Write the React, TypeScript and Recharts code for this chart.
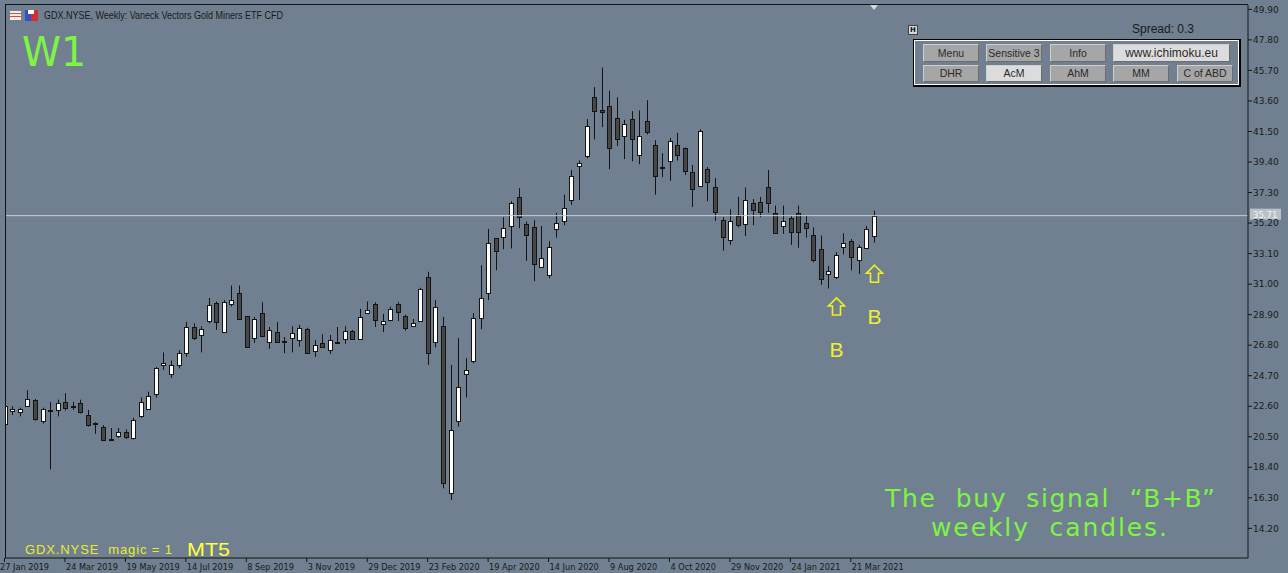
import React from 'react';
import { ComposedChart, Bar, XAxis, YAxis, ReferenceLine, ReferenceDot } from 'recharts';

// weekly bars from 27 Jan 2019 to 11 Apr 2021
const OPEN = [
  21.4, 22.3, 22.2, 22.6, 23.0, 21.55, 22.35, 22.35, 22.9, 22.65, 22.85, 22.0, 21.45, 21.2, 20.35, 20.55, 20.8, 20.4, 21.9, 22.4,
  23.45, 25.45, 24.8, 25.45, 26.25, 28.05, 27.5, 28.45, 29.7, 27.7, 29.6, 30.4, 28.8, 27.3, 29.0, 27.05, 27.7, 27.1, 27.3, 27.15,
  27.9, 26.4, 26.95, 26.5, 27.0, 27.25, 27.8, 27.25, 29.0, 29.6, 28.25, 28.5, 29.65, 28.8, 28.1, 28.45, 31.5, 27.05, 28.1, 16.6,
  21.6, 24.8, 25.7, 28.7, 30.4, 34.15, 34.25, 35.0, 37.0, 35.15, 34.95, 32.2, 31.6, 34.8, 35.35, 36.8, 39.1, 39.8, 43.85, 42.95,
  43.25, 42.4, 41.2, 42.35, 39.9, 42.2, 40.6, 39.05, 39.45, 40.55, 40.35, 38.7, 37.75, 38.9, 37.65, 35.4, 34.05, 35.7, 35.15, 36.6,
  36.65, 37.7, 35.9, 35.0, 35.55, 35.9, 35.2, 34.35, 33.4, 31.7, 31.5, 33.55, 33.95, 32.65, 33.5, 34.3,
];
const HIGH = [
  22.8, 22.6, 22.5, 23.7, 23.1, 22.5, 22.9, 23.05, 23.5, 22.9, 23.05, 22.35, 21.5, 21.3, 21.1, 21.1, 21.0, 21.8, 23.2, 23.6,
  25.3, 26.3, 25.75, 26.45, 28.4, 28.3, 28.1, 30.05, 29.8, 29.9, 30.9, 30.9, 28.8, 28.75, 29.75, 28.05, 28.4, 27.35, 28.1, 28.2,
  28.0, 27.15, 27.55, 27.5, 28.05, 28.1, 27.85, 29.3, 29.8, 29.75, 28.95, 29.45, 29.75, 28.9, 28.6, 30.75, 31.85, 29.9, 28.75, 25.45,
  27.3, 25.9, 29.0, 32.3, 34.8, 34.15, 35.6, 36.7, 37.6, 35.3, 35.4, 35.0, 33.95, 35.9, 37.15, 38.85, 39.5, 42.35, 44.55, 45.9,
  44.3, 43.85, 42.3, 42.9, 42.95, 43.65, 40.9, 40.0, 41.05, 41.4, 40.4, 39.2, 41.65, 39.05, 38.3, 35.6, 36.15, 37.0, 37.65, 36.85,
  37.0, 38.85, 36.4, 36.4, 35.75, 36.4, 35.7, 34.9, 34.35, 32.25, 33.2, 34.5, 34.1, 33.7, 35.0, 36.05,
];
const LOW = [
  21.0, 22.0, 21.9, 22.6, 21.6, 21.4, 18.25, 21.9, 22.3, 22.35, 22.1, 21.2, 20.7, 20.2, 20.2, 20.4, 20.35, 20.3, 21.8, 22.35,
  23.2, 25.1, 24.55, 25.2, 26.0, 27.15, 26.3, 28.3, 27.85, 27.7, 29.45, 28.6, 26.65, 26.95, 27.35, 26.55, 26.95, 26.25, 26.3, 26.7,
  26.2, 26.0, 26.65, 26.2, 26.95, 26.9, 27.2, 27.2, 29.0, 28.05, 27.7, 28.45, 28.45, 27.8, 28.05, 28.4, 25.45, 26.65, 16.95, 16.15,
  21.2, 23.2, 25.55, 27.9, 29.9, 31.95, 33.4, 33.45, 34.85, 32.6, 31.2, 32.2, 31.4, 34.2, 35.05, 36.45, 36.8, 39.65, 40.95, 41.8,
  38.9, 40.5, 39.6, 39.45, 39.25, 41.3, 37.15, 38.35, 38.1, 39.5, 38.5, 36.3, 37.7, 36.7, 35.35, 33.3, 33.7, 34.9, 34.3, 35.05,
  35.6, 35.9, 34.5, 34.45, 33.7, 33.5, 34.2, 32.5, 30.95, 30.7, 31.35, 33.05, 31.95, 31.7, 33.45, 33.85,
];
const CLOSE = [
  22.6, 22.4, 22.4, 23.1, 21.7, 22.4, 22.3, 22.8, 22.45, 22.6, 22.2, 21.3, 21.4, 20.3, 20.3, 20.85, 20.5, 21.65, 22.9, 23.3,
  25.2, 25.6, 25.45, 26.25, 28.05, 27.3, 27.9, 29.55, 28.4, 29.8, 29.9, 28.6, 26.7, 28.6, 27.4, 27.85, 27.0, 27.05, 27.65, 28.0,
  26.25, 26.8, 26.7, 27.15, 27.05, 27.8, 27.25, 28.75, 29.2, 28.55, 28.45, 29.3, 29.1, 28.0, 28.35, 30.65, 26.25, 29.4, 17.3, 20.95,
  23.95, 25.1, 28.7, 30.05, 33.85, 33.3, 34.85, 36.55, 35.6, 34.4, 32.4, 32.8, 33.55, 35.2, 36.25, 38.45, 39.3, 41.85, 42.9, 42.85,
  40.35, 40.95, 42.0, 40.95, 41.2, 41.45, 38.45, 39.0, 40.85, 39.9, 38.8, 37.55, 41.55, 38.0, 35.95, 34.25, 35.35, 35.05, 36.8, 36.1,
  35.95, 36.6, 34.5, 35.35, 34.6, 34.6, 34.85, 32.65, 31.35, 31.9, 33.0, 33.85, 32.85, 33.55, 34.8, 35.71,
];

const TICK_LABELS = [
  '27 Jan 2019', '24 Mar 2019', '19 May 2019', '14 Jul 2019', '8 Sep 2019', '3 Nov 2019', '29 Dec 2019', '23 Feb 2020',
  '19 Apr 2020', '14 Jun 2020', '9 Aug 2020', '4 Oct 2020', '29 Nov 2020', '24 Jan 2021', '21 Mar 2021',
];
const TICK_BARS = [0, 8, 16, 24, 32, 40, 48, 56, 64, 72, 80, 88, 96, 104, 112];
const Y_TICKS = [14.2, 16.3, 18.4, 20.5, 22.6, 24.7, 26.8, 28.9, 31.0, 33.1, 35.2, 37.3, 39.4, 41.5, 43.6, 45.7, 47.8, 49.9];
const LAST_PRICE = 35.71;
const SIGNAL_BARS = [110, 115];
const SIGNAL_PRICES = [30.05, 32.3];
const ROW1 = ['Menu', 'Sensitive 3', 'Info', 'www.ichimoku.eu'];
const ROW2 = ['DHR', 'AcM', 'AhM', 'MM', 'C of ABD'];

const BG = '#708090';
const INK = '#141414';
const GREEN = '#7ef542';
const YELLOW = '#eaea30';

const data = OPEN.map((o, i) => ({ i, o, h: HIGH[i], l: LOW[i], c: CLOSE[i], range: [LOW[i], HIGH[i]] }));

const Candle = (props: any) => {
  const { x, y, width, height, payload } = props;
  const { o, h, l, c } = payload;
  const top = Math.min(y, y + height);
  const bot = Math.max(y, y + height);
  const span = h - l || 1;
  const py = (p: number) => top + ((h - p) / span) * (bot - top);
  const n = Math.round(x + width / 2);
  const up = c >= o;
  const bt = Math.round(py(Math.max(o, c))) + 0.5;
  const bb = Math.max(Math.round(py(Math.min(o, c))) + 0.5, bt + 1);
  return (
    <g>
      <line x1={n + 0.5} x2={n + 0.5} y1={top} y2={bot} stroke={INK} />
      <rect x={n - 1.5} y={bt} width={4} height={bb - bt} fill={up ? '#ffffff' : '#474747'} stroke={INK} />
    </g>
  );
};

const XTick = (props: any) => {
  const { x, y, payload } = props;
  const k = TICK_BARS.indexOf(payload.value);
  const tx = k === 0 ? 0 : x + 0.5;
  return (
    <g>
      <line x1={x - 0.5} x2={x - 0.5} y1={y} y2={y + 4} stroke={INK} />
      <text x={tx} y={y + 12} fill="#1a1a1a" fontSize={8.2} fontFamily="DejaVu Sans" textAnchor="start">
        {TICK_LABELS[k] ?? ''}
      </text>
    </g>
  );
};

const PriceTag = (props: any) => {
  const { cx, cy } = props;
  return (
    <g>
      <rect x={cx + 2} y={cy - 7} width={31} height={11} fill="#b9c0c8" />
      <text x={cx + 5} y={cy + 2} fill="#f4f4f4" fontSize={8.5} fontFamily="DejaVu Sans">
        {LAST_PRICE.toFixed(2)}
      </text>
    </g>
  );
};

const Signal = (props: any) => {
  const { cx, cy } = props;
  const x = Math.round(cx) + 0.5;
  const t = cy;
  const d = `M${x},${t} L${x + 8},${t + 8} L${x + 4},${t + 8} L${x + 4},${t + 17} L${x - 4},${t + 17} L${x - 4},${t + 8} L${x - 8},${t + 8} Z`;
  return (
    <g>
      <path d={d} fill="none" stroke="#f0f020" strokeWidth={1.6} />
      <text x={x} y={t + 59} fill="#f0f030" fontSize={21} fontFamily="Liberation Sans" textAnchor="middle">B</text>
    </g>
  );
};

const btn = (light: boolean, left: number, top: number, w: number, h: number, fs: number): React.CSSProperties => ({
  position: 'absolute',
  left,
  top,
  width: w,
  height: h,
  boxSizing: 'border-box',
  background: light ? '#dcdcdc' : '#a6a6a6',
  borderTop: '1px solid #cfcfcf',
  borderLeft: '1px solid #cfcfcf',
  borderRight: '1px solid #6c6c6c',
  borderBottom: '1px solid #6c6c6c',
  color: '#2a2a2a',
  fontFamily: 'Liberation Sans',
  fontSize: fs,
  lineHeight: `${h - 2}px`,
  textAlign: 'center',
  whiteSpace: 'nowrap',
});

export default function App() {
  return (
    <div style={{ position: 'absolute', left: 0, top: 0, width: 1288, height: 573, background: BG, overflow: 'hidden' }}>
      <ComposedChart width={1288} height={573} data={data} margin={{ top: 5, right: 0, bottom: 0, left: 5 }}>
        <XAxis
          type="number"
          dataKey="i"
          domain={[0, 164.5]}
          allowDataOverflow
          ticks={TICK_BARS}
          interval={0}
          height={15}
          tickSize={0}
          tickMargin={0}
          tick={<XTick />}
          axisLine={{ stroke: INK }}
        />
        <YAxis
          orientation="right"
          width={40}
          domain={[12.16, 50.2]}
          allowDataOverflow
          ticks={Y_TICKS}
          interval={0}
          tickSize={4}
          tickMargin={1}
          tickFormatter={(v: number) => v.toFixed(2)}
          tick={{ fill: '#1a1a1a', fontSize: 9, fontFamily: 'DejaVu Sans' }}
          tickLine={{ stroke: INK }}
          axisLine={{ stroke: INK }}
        />
        <ReferenceLine y={LAST_PRICE} stroke="#c8ccd0" strokeWidth={1} />
        <Bar dataKey="range" barSize={5} shape={<Candle />} isAnimationActive={false} />
        <ReferenceDot x={164.5} y={LAST_PRICE} ifOverflow="visible" shape={<PriceTag />} />
        {SIGNAL_BARS.map((b, k) => (
          <ReferenceDot key={b} x={b} y={SIGNAL_PRICES[k]} ifOverflow="visible" shape={<Signal />} />
        ))}
      </ComposedChart>

      <svg width={1288} height={573} style={{ position: 'absolute', left: 0, top: 0, pointerEvents: 'none' }}>
        <line x1={5.5} x2={5.5} y1={4} y2={558} stroke={INK} />
        <line x1={5} x2={1248} y1={4.5} y2={4.5} stroke={INK} />
        <polygon points="870,5 878,5 874,10" fill="#d4d8dc" />
        <rect x={9.5} y={10.5} width={12} height={10} fill="#f0ece8" stroke="#7080a0" />
        <line x1={10} x2={21} y1={13.5} y2={13.5} stroke="#d05030" />
        <line x1={10} x2={21} y1={16.5} y2={16.5} stroke="#d05030" />
        <rect x={25} y={10} width={6} height={11} fill="#3050d0" />
        <rect x={31} y={10} width={7} height={11} fill="#d03030" />
        <rect x={28} y={10} width={6} height={4} fill="#ffffff" />
        <text x={44} y={19} fill="#1a1a1a" fontSize={10.5} fontFamily="Liberation Sans" textLength={239} lengthAdjust="spacingAndGlyphs">
          GDX.NYSE, Weekly:  Vaneck Vectors Gold Miners ETF CFD
        </text>
        <text x={22} y={66} fill={GREEN} fontSize={41} fontFamily="DejaVu Sans" textLength={64} lengthAdjust="spacingAndGlyphs">
          W1
        </text>
        <text x={25} y={554} fill={YELLOW} fontSize={13} fontFamily="Liberation Sans" textLength={147} lengthAdjust="spacing" style={{ whiteSpace: 'pre' }}>
          GDX.NYSE  magic = 1
        </text>
        <text x={187} y={556} fill="#ffff40" fontSize={18} fontFamily="Liberation Sans" textLength={43} lengthAdjust="spacingAndGlyphs">
          MT5
        </text>
        <text x={885} y={507} fill={GREEN} fontSize={25} fontFamily="DejaVu Sans" textLength={330} lengthAdjust="spacing" style={{ whiteSpace: 'pre' }}>
          The  buy  signal  “B+B”
        </text>
        <text x={931} y={536} fill={GREEN} fontSize={25} fontFamily="DejaVu Sans" textLength={236} lengthAdjust="spacing" style={{ whiteSpace: 'pre' }}>
          weekly  candles.
        </text>
        <text x={1132} y={33} fill="#1a1a1a" fontSize={12} fontFamily="Liberation Sans">
          Spread: 0.3
        </text>
      </svg>

      <div style={{ position: 'absolute', left: 908, top: 25, width: 10, height: 10, boxSizing: 'border-box', background: '#d8d8d8', border: '1px solid #404040', fontFamily: 'DejaVu Sans', fontSize: 7, fontWeight: 'bold', lineHeight: '8px', textAlign: 'center', color: '#111' }}>
        H
      </div>
      <div style={{ position: 'absolute', left: 913, top: 39, width: 328, height: 48, boxSizing: 'border-box', borderTop: '1px solid #000', borderLeft: '1px solid #000', borderRight: '2px solid #000', borderBottom: '2px solid #000' }}>
        <div style={{ width: '100%', height: '100%', boxSizing: 'border-box', border: '1px solid #ffffff', background: BG }} />
      </div>
      {ROW1.map((t, k) => (
        <div key={t} style={btn(k === 3, 923 + Math.round(k * 63.4), 44, k === 3 ? 117 : 56, 18, k === 3 ? 12 : 10.5)}>{t}</div>
      ))}
      {ROW2.map((t, k) => (
        <div key={t} style={btn(k === 1, 923 + Math.round(k * 63.4), 65, 56, 17, 10.5)}>{t}</div>
      ))}
    </div>
  );
}
